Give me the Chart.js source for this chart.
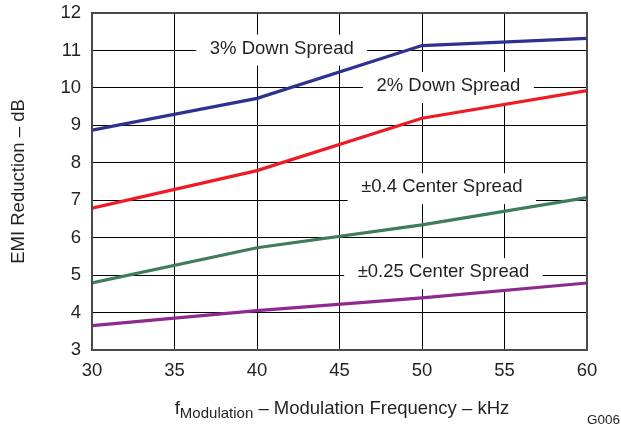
<!DOCTYPE html>
<html>
<head>
<meta charset="utf-8">
<script src="https://cdn.jsdelivr.net/npm/chart.js@4/dist/chart.umd.min.js"></script>
<style>
  html, body { margin: 0; padding: 0; background: #fff; }
  #wrap { width: 621px; height: 427px; position: relative; }
</style>
</head>
<body>
<div id="wrap"><canvas id="c" width="621" height="427"></canvas></div>
<script>
// ---- data ----
const frequencies = [30, 40, 50, 60];
const seriesNames = ["3% Down Spread", "2% Down Spread", "\u00B10.4 Center Spread", "\u00B10.25 Center Spread"];
const down3 = [8.87, 9.72, 11.13, 11.32];
const down2 = [6.79, 7.79, 9.19, 9.93];
const center04 = [4.79, 5.73, 6.34, 7.07];
const center025 = [3.65, 4.05, 4.39, 4.79];
const xTicks = [30, 35, 40, 45, 50, 55, 60];
const yTicks = [3, 4, 5, 6, 7, 8, 9, 10, 11, 12];

// ---- styling / placement (not data) ----
const colors = ["#2E3192", "#ED1C24", "#3F7C5C", "#8E2A8F"];
const labelAnchors = [ // text centre in data coordinates
  {x: 41.5, y: 11.05},
  {x: 51.6, y: 10.05},
  {x: 51.2, y: 7.35},
  {x: 51.3, y: 5.08}
];
const FONT = '"Liberation Sans", Arial, Helvetica, sans-serif';
const TEXT = '#231F20';

const seriesValues = [down3, down2, center04, center025];
const datasets = seriesValues.map((vals, i) => ({
  label: seriesNames[i],
  data: frequencies.map((f, j) => ({x: f, y: vals[j]})),
  borderColor: colors[i],
  backgroundColor: colors[i],
  borderWidth: 3.2,
  pointRadius: 0,
  tension: 0,
  fill: false
}));

const decor = {
  id: 'decor',
  beforeDatasetsDraw(chart) {
    const ctx = chart.ctx;
    const xs = chart.scales.x, ys = chart.scales.y;
    ctx.save();
    ctx.font = '18.5px ' + FONT;
    ctx.textAlign = 'center';
    ctx.textBaseline = 'middle';
    seriesNames.forEach((name, i) => {
      const cx = xs.getPixelForValue(labelAnchors[i].x);
      const cy = ys.getPixelForValue(labelAnchors[i].y);
      const w = ctx.measureText(name).width + 27;
      const h = 31;
      ctx.fillStyle = '#fff';
      ctx.fillRect(cx - w / 2, cy - h / 2 + 1.5, w, h);
      ctx.fillStyle = TEXT;
      ctx.fillText(name, cx, cy);
    });
    ctx.restore();
  },
  afterDatasetsDraw(chart) {
    const ctx = chart.ctx;
    const a = chart.chartArea;
    ctx.save();
    ctx.strokeStyle = '#4a4a4a';
    ctx.lineWidth = 2;
    ctx.strokeRect(a.left, a.top, a.right - a.left, a.bottom - a.top);
    ctx.restore();
  },
  afterDraw(chart) {
    const ctx = chart.ctx;
    const a = chart.chartArea;
    ctx.save();
    ctx.fillStyle = TEXT;
    // y title
    ctx.font = '18.5px ' + FONT;
    ctx.textAlign = 'center';
    ctx.textBaseline = 'middle';
    ctx.translate(19, (a.top + a.bottom) / 2);
    ctx.rotate(-Math.PI / 2);
    ctx.fillText('EMI Reduction \u2013 dB', 0, 0);
    ctx.restore();

    ctx.save();
    ctx.fillStyle = TEXT;
    ctx.textBaseline = 'alphabetic';
    ctx.textAlign = 'left';
    const p1 = 'f', p2 = 'Modulation', p3 = ' \u2013 Modulation Frequency \u2013 kHz';
    ctx.font = '18.5px ' + FONT;
    const w1 = ctx.measureText(p1).width, w3 = ctx.measureText(p3).width;
    ctx.font = '15px ' + FONT;
    const w2 = ctx.measureText(p2).width;
    const total = w1 + w2 + w3;
    let x = 342 - total / 2;
    const base = 414;
    ctx.font = '18.5px ' + FONT;
    ctx.fillText(p1, x, base); x += w1;
    ctx.font = '15px ' + FONT;
    ctx.fillText(p2, x, base + 4); x += w2;
    ctx.font = '18.5px ' + FONT;
    ctx.fillText(p3, x, base);
    // figure code
    ctx.font = '13.5px ' + FONT;
    ctx.textAlign = 'right';
    ctx.fillText('G006', 620, 424);
    ctx.restore();
  }
};

new Chart(document.getElementById('c'), {
  type: 'line',
  data: { datasets },
  options: {
    responsive: false,
    animation: false,
    devicePixelRatio: 1,
    layout: { padding: { top: 13, right: 34, left: 0, bottom: 0 } },
    plugins: { legend: { display: false }, tooltip: { enabled: false } },
    scales: {
      x: {
        type: 'linear',
        min: 30, max: 60,
        afterBuildTicks(s) { s.ticks = xTicks.map(v => ({value: v})); },
        afterFit(s) { s.height = 77; s.paddingLeft = 0; s.paddingRight = 0; },
        ticks: { color: TEXT, font: { size: 18.5, family: FONT }, padding: 10, maxRotation: 0, autoSkip: false },
        grid: { color: '#000', lineWidth: 1, drawTicks: false },
        border: { display: false }
      },
      y: {
        type: 'linear',
        min: 3, max: 12,
        afterBuildTicks(s) { s.ticks = yTicks.map(v => ({value: v})); },
        afterFit(s) { s.width = 92; s.paddingTop = 0; s.paddingBottom = 0; },
        ticks: { color: TEXT, font: { size: 18.5, family: FONT }, padding: 11, autoSkip: false },
        grid: { color: '#000', lineWidth: 1, drawTicks: false },
        border: { display: false }
      }
    }
  },
  plugins: [decor]
});
</script>
</body>
</html>
